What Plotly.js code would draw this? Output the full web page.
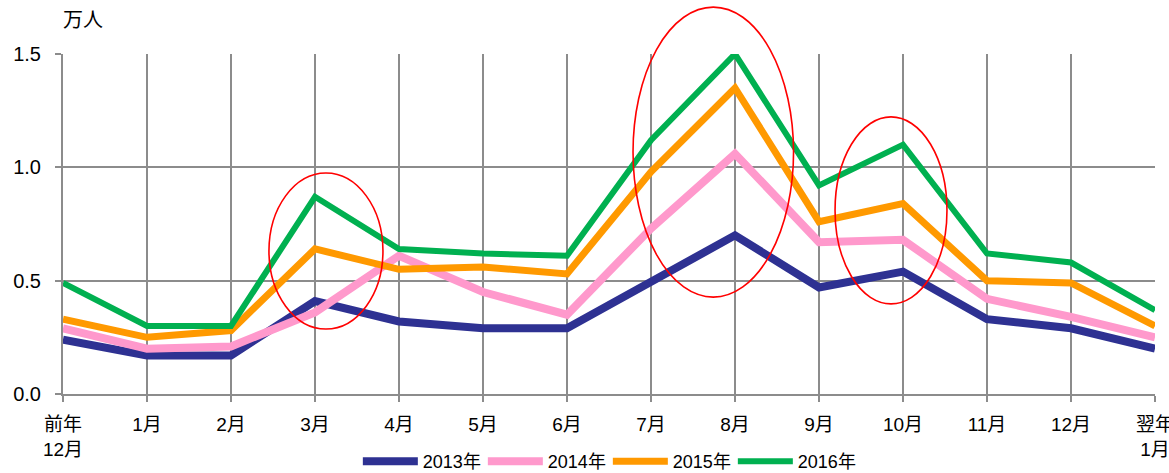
<!DOCTYPE html>
<html>
<head>
<meta charset="utf-8">
<script src="https://cdn.plot.ly/plotly-3.0.1.min.js"></script>
<style>
  html, body { margin: 0; padding: 0; background: #ffffff; }
  #chart { width: 1169px; height: 473px; }
</style>
</head>
<body>
<div id="chart"></div>
<script>
// Months from the previous December through the following January
const months = ['前年<br>12月', '1月', '2月', '3月', '4月', '5月', '6月',
                '7月', '8月', '9月', '10月', '11月', '12月', '翌年<br>1月'];

// Visitors per month (unit: 10,000 people)
const y2013 = [0.24, 0.17, 0.17, 0.41, 0.32, 0.29, 0.29, 0.49, 0.70, 0.47, 0.54, 0.33, 0.29, 0.20];
const y2014 = [0.29, 0.20, 0.21, 0.36, 0.61, 0.45, 0.35, 0.73, 1.06, 0.67, 0.68, 0.42, 0.34, 0.25];
const y2015 = [0.33, 0.25, 0.28, 0.64, 0.55, 0.56, 0.53, 0.98, 1.35, 0.76, 0.84, 0.50, 0.49, 0.30];
const y2016 = [0.49, 0.30, 0.30, 0.87, 0.64, 0.62, 0.61, 1.12, 1.50, 0.92, 1.10, 0.62, 0.58, 0.37];

const seriesNames = ['2013年', '2014年', '2015年', '2016年'];

const baseFont = 'Liberation Sans, Arial, "Noto Sans CJK JP", sans-serif';
const gridGray = '#8c8c8c';

const traces = [
  { y: y2013, color: '#2e3192', width: 8 },
  { y: y2014, color: '#ff99cc', width: 8 },
  { y: y2015, color: '#ff9900', width: 7 },
  { y: y2016, color: '#00b050', width: 6 }
].map((s, i) => ({
  type: 'scatter',
  mode: 'lines',
  name: seriesNames[i],
  x: months,
  y: s.y,
  line: { color: s.color, width: s.width },
  hoverinfo: 'x+y+name'
}));

// Highlight rings around the March, August and October peaks
const ring = (x0, x1, y0, y1) => ({
  type: 'circle',
  xref: 'x domain', yref: 'y domain',
  x0: x0, x1: x1, y0: y0, y1: y1,
  line: { color: '#ff0000', width: 1.6 },
  fillcolor: 'rgba(0,0,0,0)',
  layer: 'above'
});

const layout = {
  width: 1169,
  height: 473,
  margin: { l: 63, r: 14, t: 54, b: 79, autoexpand: false },
  paper_bgcolor: '#ffffff',
  plot_bgcolor: '#ffffff',
  font: { family: baseFont, size: 19, color: '#000000' },
  showlegend: true,
  legend: {
    orientation: 'h',
    x: 0.27, xanchor: 'left',
    y: -0.253, yanchor: 'bottom',
    font: { family: baseFont, size: 18, color: '#000000' },
    itemwidth: 55,
    entrywidth: 55,
    bgcolor: 'rgba(0,0,0,0)'
  },
  xaxis: {
    type: 'category',
    range: [0, 13],
    automargin: false,
    showline: true, linecolor: gridGray, linewidth: 2,
    showgrid: true, gridcolor: gridGray, gridwidth: 2,
    ticks: 'outside', ticklen: 6, tickcolor: gridGray, tickwidth: 2,
    ticklabelstandoff: 6,
    tickfont: { family: baseFont, size: 19, color: '#000000' },
    fixedrange: true
  },
  yaxis: {
    range: [0, 1.5],
    dtick: 0.5,
    tickformat: '.1f',
    automargin: false,
    showline: true, linecolor: gridGray, linewidth: 2,
    showgrid: true, gridcolor: gridGray, gridwidth: 2,
    zeroline: false,
    ticks: 'outside', ticklen: 6, tickcolor: gridGray, tickwidth: 2,
    ticklabelstandoff: 10,
    tickfont: { family: baseFont, size: 20, color: '#000000' },
    fixedrange: true
  },
  shapes: [
    ring(0.1886, 0.293, 0.191, 0.65),
    ring(0.522, 0.669, 0.285, 1.138),
    ring(0.707, 0.8095, 0.265, 0.815)
  ],
  annotations: [
    {
      text: '万人',
      xref: 'paper', yref: 'paper',
      x: -0.002, y: 1.10,
      xanchor: 'left', yanchor: 'middle',
      showarrow: false,
      font: { family: baseFont, size: 20, color: '#000000' }
    }
  ]
};

Plotly.newPlot('chart', traces, layout, { displayModeBar: false, staticPlot: true });
</script>
</body>
</html>
